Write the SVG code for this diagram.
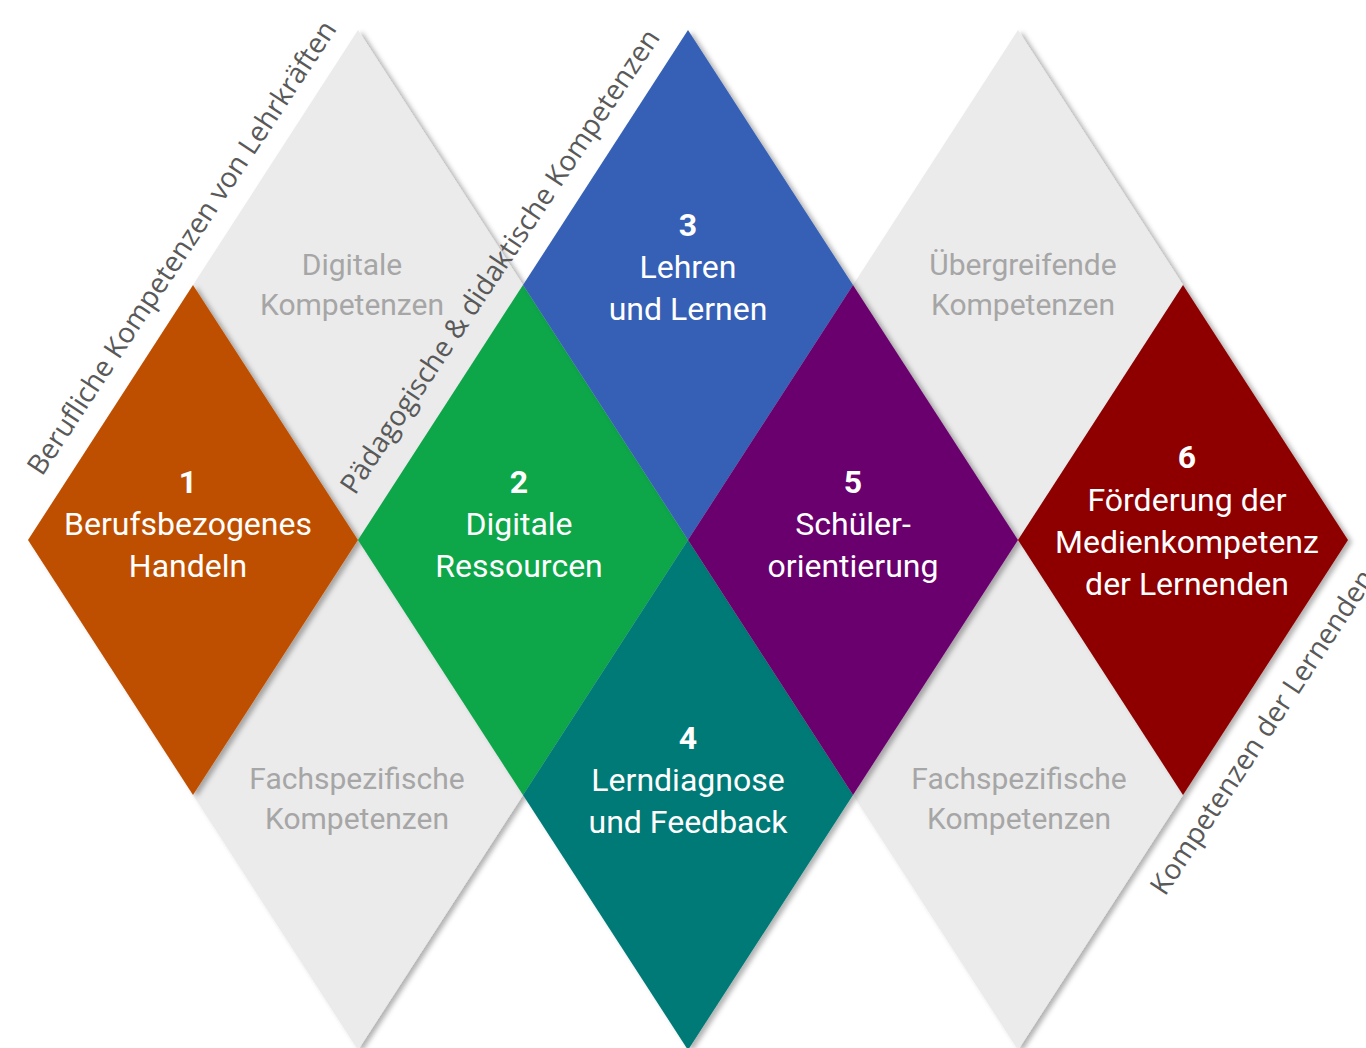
<svg xmlns="http://www.w3.org/2000/svg" width="1366" height="1048" viewBox="0 0 1366 1048">
<defs>
<filter id="sh" x="-10%" y="-10%" width="125%" height="125%">
<feDropShadow dx="4" dy="2" stdDeviation="2.5" flood-color="#000" flood-opacity="0.3"/>
</filter>
<polygon id="dia" points="0,-255 165,0 0,255 -165,0"/>
</defs>
<style>
.grey{fill:#ebebeb}
.gt{font-family:Roboto,"Liberation Sans",sans-serif;font-size:30px;fill:#a6a6a6;text-anchor:middle}
.ct{font-family:Roboto,"Liberation Sans",sans-serif;font-size:32px;fill:#ffffff;text-anchor:middle}
.num{font-weight:bold}
.lab{font-family:"Open Sans","Liberation Sans",sans-serif;font-size:28px;fill:#595959}
</style>
<rect width="1366" height="1048" fill="#ffffff"/>
<g id="connectors"></g>
<g id="grey-top-left" filter="url(#sh)"><use href="#dia" x="358" y="285" class="grey"/></g>
<g id="grey-bottom-left" filter="url(#sh)"><use href="#dia" x="358" y="795" class="grey"/></g>
<g id="grey-top-right" filter="url(#sh)"><use href="#dia" x="1018" y="285" class="grey"/></g>
<g id="grey-bottom-right" filter="url(#sh)"><use href="#dia" x="1018" y="795" class="grey"/></g>
<g id="grey-texts">
<text class="gt" x="352" y="275">Digitale</text>
<text class="gt" x="352" y="315">Kompetenzen</text>
<text class="gt" x="357" y="789">Fachspezifische</text>
<text class="gt" x="357" y="829">Kompetenzen</text>
<text class="gt" x="1023" y="275">Übergreifende</text>
<text class="gt" x="1023" y="315">Kompetenzen</text>
<text class="gt" x="1019" y="789">Fachspezifische</text>
<text class="gt" x="1019" y="829">Kompetenzen</text>
</g>
<g id="node1">
<use href="#dia" x="193" y="540" fill="#bf5000" filter="url(#sh)"/>
<text class="ct num" x="188" y="493">1</text>
<text class="ct" x="188" y="535">Berufsbezogenes</text>
<text class="ct" x="188" y="577">Handeln</text>
</g>
<g id="node2">
<use href="#dia" x="523" y="540" fill="#0ba648" filter="url(#sh)"/>
<text class="ct num" x="519" y="493">2</text>
<text class="ct" x="519" y="535">Digitale</text>
<text class="ct" x="519" y="577">Ressourcen</text>
</g>
<g id="node3">
<use href="#dia" x="688" y="285" fill="#3561b5" filter="url(#sh)"/>
<text class="ct num" x="688" y="236">3</text>
<text class="ct" x="688" y="278">Lehren</text>
<text class="ct" x="688" y="320">und Lernen</text>
</g>
<g id="node4">
<use href="#dia" x="688" y="795" fill="#007a76" filter="url(#sh)"/>
<text class="ct num" x="688" y="749">4</text>
<text class="ct" x="688" y="791">Lerndiagnose</text>
<text class="ct" x="688" y="833">und Feedback</text>
</g>
<g id="node5">
<use href="#dia" x="853" y="540" fill="#6b006e" filter="url(#sh)"/>
<text class="ct num" x="853" y="493">5</text>
<text class="ct" x="853" y="535">Schüler-</text>
<text class="ct" x="853" y="577">orientierung</text>
</g>
<g id="node6">
<use href="#dia" x="1183" y="540" fill="#8e0000" filter="url(#sh)"/>
<text class="ct num" x="1187" y="468">6</text>
<text class="ct" x="1187" y="511">Förderung der</text>
<text class="ct" x="1187" y="553">Medienkompetenz</text>
<text class="ct" x="1187" y="595">der Lernenden</text>
</g>
<g id="labels">
<text class="lab" transform="translate(42,477) rotate(-56.6)">Berufliche Kompetenzen von Lehrkräften</text>
<text class="lab" transform="translate(355,496) rotate(-56.3)">Pädagogische &amp; didaktische Kompetenzen</text>
<text class="lab" transform="translate(1165,897) rotate(-56.6)">Kompetenzen der Lernenden</text>
</g>
</svg>
